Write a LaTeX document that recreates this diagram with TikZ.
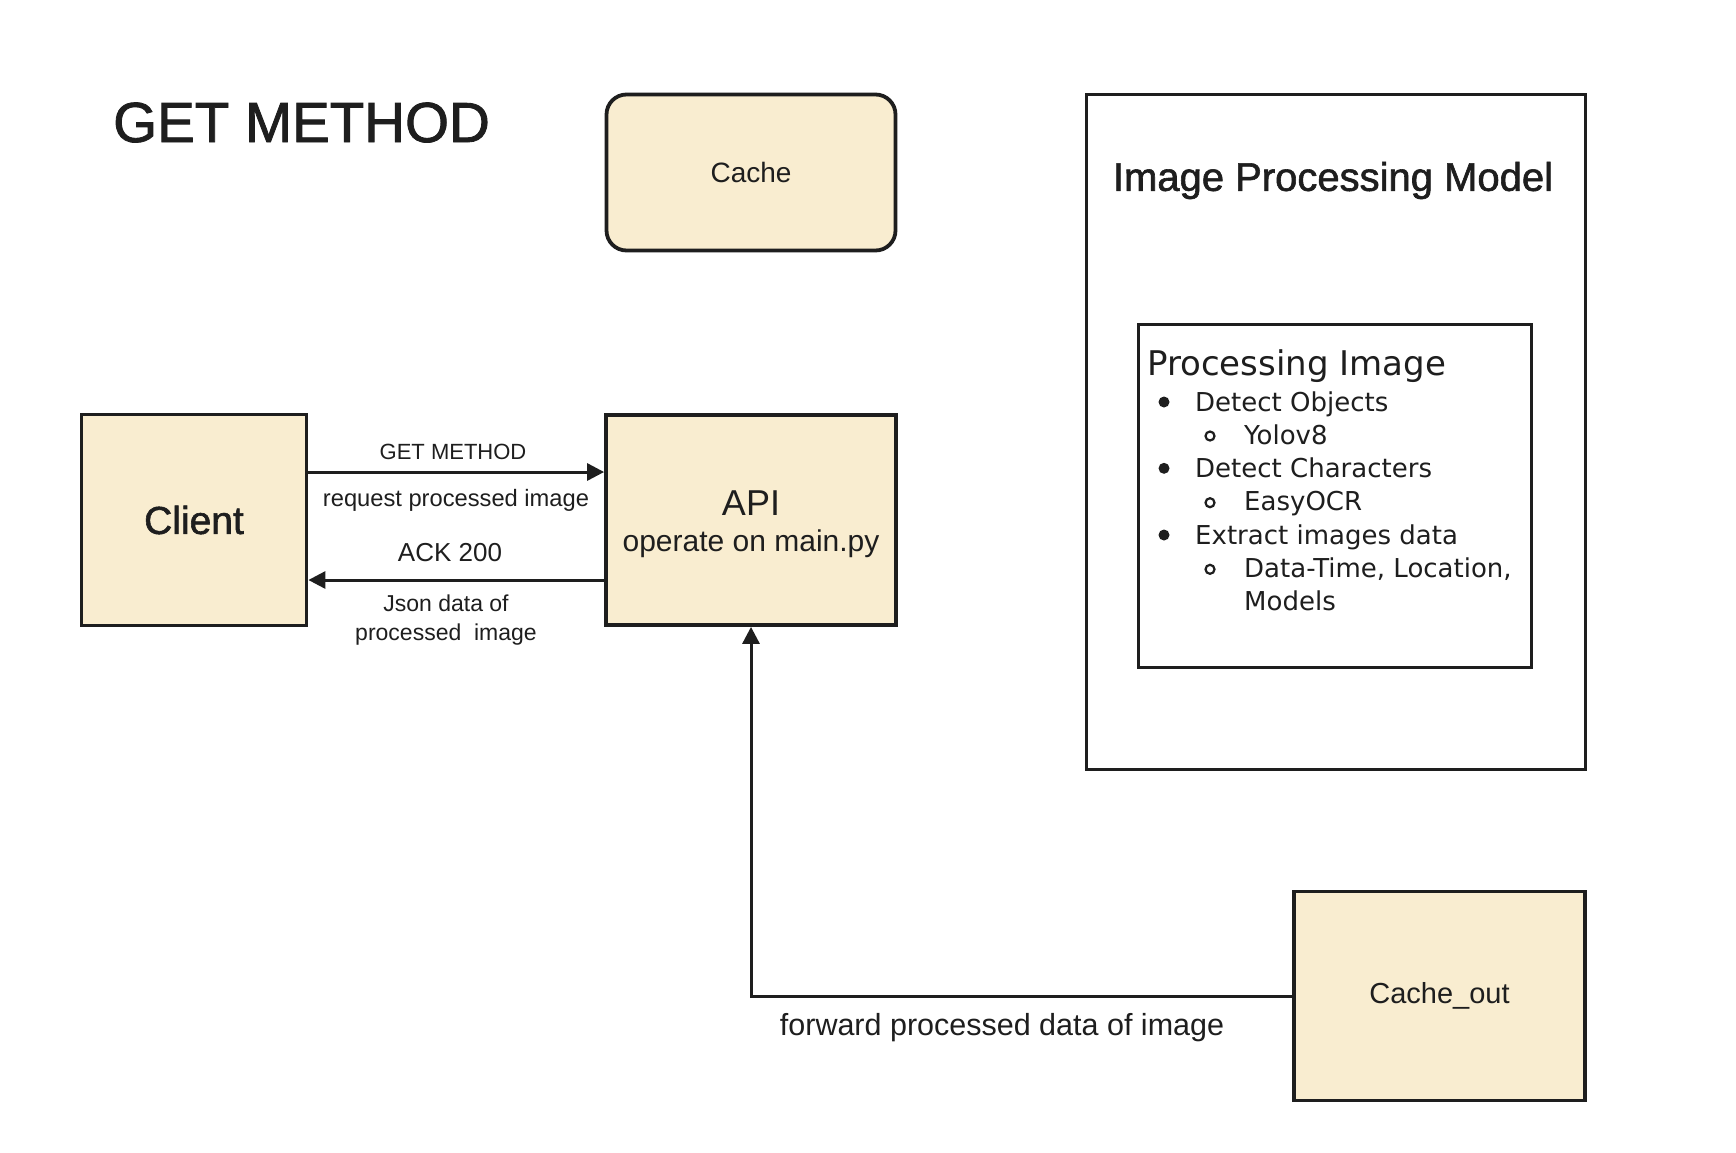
\documentclass[tikz,border=0pt]{standalone}
\usepackage{fontspec}
\setmainfont{Liberation Sans}
\newfontfamily\medfont[FakeBold=1.5]{Liberation Sans}
\newfontfamily\listfont{DejaVu Sans}
\usetikzlibrary{arrows.meta}
\definecolor{boxfill}{RGB}{249,237,208}
\definecolor{ink}{RGB}{30,30,30}
\newcommand\fsz[1]{\fontsize{#1}{#1}\selectfont}
\begin{document}
\begin{tikzpicture}[x=1pt,y=-1pt,
  box/.style={draw=ink, line width=3.8pt, fill=boxfill, inner sep=0pt, text=ink},
  frame/.style={draw=ink, line width=3pt, inner sep=0pt},
  conn/.style={draw=ink, line width=3pt, -{Triangle[length=17pt,width=17pt]}},
  lbl/.style={text=ink, inner sep=0pt},
  litem/.style={text=ink, inner sep=0pt, anchor=base west, font=\listfont\fsz{26}},
  dotb/.style={fill=ink, draw=none},
  ringb/.style={draw=ink, line width=2.2pt, fill=none},
]
\useasboundingbox[fill=white] (0,0) rectangle (1736,1152);

\node[lbl, anchor=base west, font=\medfont\fsz{56.5}] (title) at (113,142) {GET METHOD};

\node[box, rounded corners=20pt, minimum width=289pt, minimum height=156pt, font=\fsz{28}] (cache) at (751,172.5) {Cache};
\node[box, minimum width=225pt, minimum height=211pt, font=\medfont\fsz{39}] (client) at (194,520) {Client};
\node[box, minimum width=290pt, minimum height=210pt, align=center, font=\fontsize{30}{36}\selectfont] (api) at (751,520) {{\fsz{36}\rule{0pt}{34pt}API}\\operate on main.py};
\node[box, minimum width=291pt, minimum height=209pt, font=\fsz{29}] (cacheout) at (1439.5,996) {Cache\_out};

\node[frame, minimum width=499pt, minimum height=675pt] (ipm) at (1335.5,431.5) {};
\node[lbl, font=\medfont\fsz{40}] (ipmt) at (1333,180.5) {Image Processing Model};
\node[frame, line width=3.5pt, minimum width=393pt, minimum height=343pt] (pi) at (1335,496) {};

\node[litem, font=\listfont\fsz{34}] (pih) at (1147,375.5) {Processing Image};
\node[litem] (l1) at (1195,411) {Detect Objects};
\node[litem] (l2) at (1244,444) {Yolov8};
\node[litem] (l3) at (1195,477.3) {Detect Characters};
\node[litem] (l4) at (1244,510.7) {EasyOCR};
\node[litem] (l5) at (1195,544) {Extract images data};
\node[litem] (l6) at (1244,577.3) {Data-Time, Location,};
\node[litem] (l7) at (1244,610.7) {Models};
\fill[dotb] (1164,402) circle (5.5);
\fill[dotb] (1164,468.3) circle (5.5);
\fill[dotb] (1164,535) circle (5.5);
\draw[ringb] (1210,436) circle (4.5);
\draw[ringb] (1210,502.7) circle (4.5);
\draw[ringb] (1210,569.3) circle (4.5);

\coordinate (ya) at (0,472);
\coordinate (yb) at (0,580);
\draw[conn] (client.east |- ya) -- (api.west |- ya);
\draw[conn] (api.west |- yb) -- (client.east |- yb);
\node[lbl, font=\fsz{22}] (getl) at (453,452) {GET METHOD};
\node[lbl, font=\fsz{23.7}] (reql) at (456,500) {request processed image};
\node[lbl, font=\fsz{26}] (ackl) at (450,553) {ACK 200};
\node[lbl, font=\fontsize{23}{29}\selectfont, align=center] (jsonl) at (446,620) {Json data of\\processed\ \ image};

\draw[conn] (cacheout.west) -| (api.south);
\node[lbl, font=\fsz{30.5}] (fwdl) at (1002,1028) {forward processed data of image};
\end{tikzpicture}
\end{document}
